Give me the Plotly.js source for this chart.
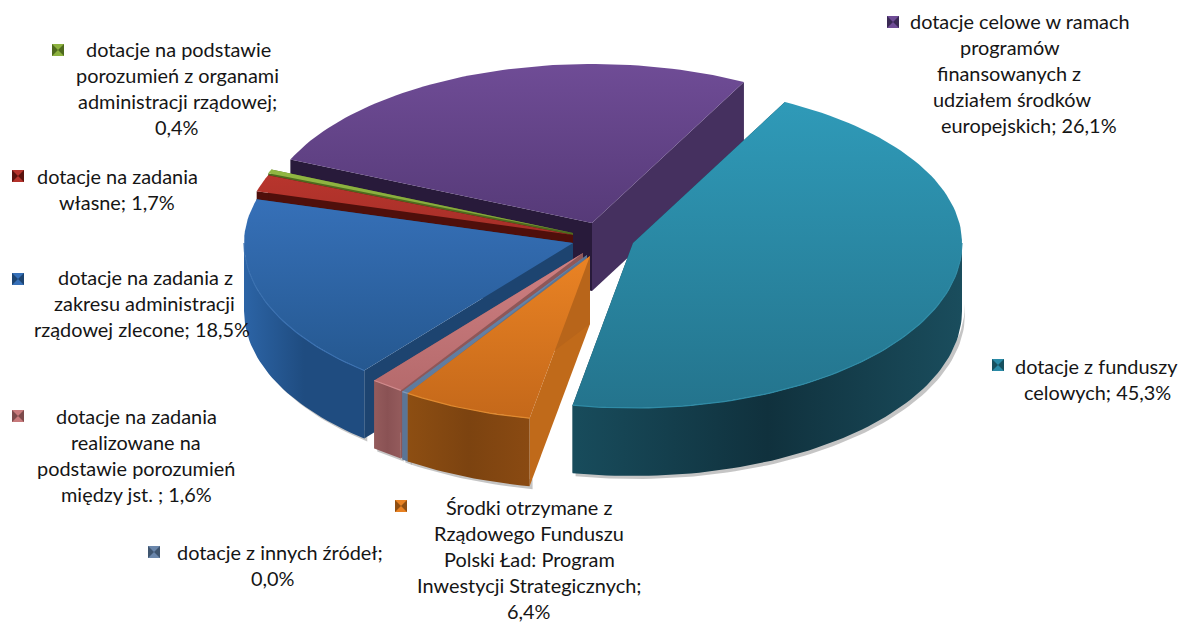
<!DOCTYPE html>
<html><head><meta charset="utf-8">
<script src="https://cdn.plot.ly/plotly-3.0.1.min.js"></script>
<style>html,body{margin:0;padding:0;background:#fff}#c{width:1187px;height:626px}</style>
</head><body><div id="c"></div>
<script>
// ---- data ----
const categories = ["dotacje z funduszy celowych","Środki otrzymane z Rządowego Funduszu Polski Ład: Program Inwestycji Strategicznych","dotacje z innych źródeł","dotacje na zadania realizowane na podstawie porozumień między jst.","dotacje na zadania z zakresu administracji rządowej zlecone","dotacje na zadania własne","dotacje na podstawie porozumień z organami administracji rządowej","dotacje celowe w ramach programów finansowanych z udziałem środków europejskich"];
const values = [45.3,6.4,0.0,1.6,18.5,1.7,0.4,26.1];
const labelLines = [
 ["dotacje z funduszy","celowych; 45,3%"],
 ["Środki otrzymane z","Rządowego Funduszu","Polski Ład: Program","Inwestycji Strategicznych;","6,4%"],
 ["dotacje z innych źródeł;","0,0%"],
 ["dotacje na zadania","realizowane na","podstawie porozumień","między jst. ; 1,6%"],
 ["dotacje na zadania z","zakresu administracji","rządowej zlecone; 18,5%"],
 ["dotacje na zadania","własne; 1,7%"],
 ["dotacje na podstawie","porozumień z organami","administracji rządowej;","0,4%"],
 ["dotacje celowe w ramach","programów","finansowanych z","udziałem środków","europejskich; 26,1%"]
];
// ---- styling / layout ----
const topCol  = [["#24748d","#2f9ab8"],["#c4681a","#ea8324"],["#5f7a9c","#6a86ab"],["#b56a6c","#cf8082"],["#255890","#3670b8"],["#a62f28","#b8352d"],["#7fa238","#92b843"],["#563a78","#6f4c96"]];
const wallCol = [["#184c5c","#10313d","#1a4d5d"],["#8d4e12","#7c4310","#8a4a12"],["#5b7596","#5b7596","#5b7596"],["#945b5c","#8a5254","#945b5c"],["#2c64a6","#1f4c80","#1f4c80"],["#4f0f0b","#4f0f0b","#4f0f0b"],["#55701f","#55701f","#55701f"],["#3a2954","#3a2954","#3a2954"]];
const startWall = ["#14414f","#c06a1a","#5b7596","#8f5758","#1d4470","#4f0f0b","#4f6a1e","#281a3a"];
const endWall   = ["#14414f","#b8651a","#5b7596","#8f5758","#1d4470","#4f0f0b","#4f6a1e","#45305f"];
const rimCol  = ["#2f8ba6","#e08a30","#7f98ba","#d08a8c","#3a70b0","#c8463e","#a5c655","#7e5ca6"];
const keyCol  = [["#2a8aa6","#17505f"],["#e88122","#8f4e12"],["#6a86ab","#3f556f"],["#c87a7c","#7d4a4b"],["#3670b8","#1d4470"],["#b5332c","#5a120d"],["#8db23f","#4f6a1e"],["#6f4c96","#3a2954"]];
const apex = [[633,243],[590,256],[587,255],[583,253],[573,243],[573,235],[573,233],[592,223]];
const labelX = [[1096,1097],[529,529,529,529,529],[280,273],[136,136,136,136],[145,144,142],[117,117],[178,177,177,177],[1020,1010,1009,1012,1029]];
const labelY = [366,507,552,416,277,176,49,21];
const keyPos = [[998,365],[401,506],[154,552],[18,416],[18,279],[18,176],[58,50],[893,22]];
const RX=329, RT=159, RB=165, DEPTH=68, ROT=27.5, MIN_SWEEP=1.3, FONT=19.9, LINE=26;
const drawOrder=[7,6,5,4,3,2,1,0];

const traces=[];
const P=(c,deg,z)=>{const r=deg*Math.PI/180,co=Math.cos(r);return [c[0]+RX*Math.sin(r),c[1]-(co>0?RT:RB)*co+(z||0)];};
function poly(pts,fill){
  traces.push({type:"scatter",mode:"lines",x:pts.map(p=>p[0]),y:pts.map(p=>p[1]),fill:"toself",line:{width:0},hoverinfo:"skip",showlegend:false,...fill});
}
function grad(type,cols){const n=cols.length-1;return {fillgradient:{type:type,colorscale:cols.map((c,i)=>[i/n,c])},fillcolor:cols[0]};}
function arc(c,a0,a1,z){const out=[];const n=Math.max(2,Math.ceil(Math.abs(a1-a0)/1.5));for(let i=0;i<=n;i++)out.push(P(c,a0+(a1-a0)*i/n,z));return out;}

let acc=ROT; const spans=values.map(v=>{const s=acc;acc+=v*3.6;return [s,acc];});
spans[2]=[spans[2][0]-MIN_SWEEP*0.6,spans[2][0]+MIN_SWEEP*0.4];

// soft shadow below the front walls
drawOrder.forEach(i=>{
  const [s,e]=spans[i],c=apex[i];
  const w0=Math.max(s,90),w1=Math.min(e,270);
  if(w1>w0){
    const sc=[c[0]+3,c[1]+3];
    poly(arc(sc,w0,w1,DEPTH).concat(arc(sc,w1,w0,DEPTH-10)),{fillcolor:"rgba(90,90,90,0.35)"});
  }
});
drawOrder.forEach(i=>{
  const [s,e]=spans[i],c=apex[i];
  // radial walls
  const pS=P(c,s),pE=P(c,e);
  poly([c,pS,[pS[0],pS[1]+DEPTH],[c[0],c[1]+DEPTH]],{fillcolor:startWall[i]});
  poly([c,pE,[pE[0],pE[1]+DEPTH],[c[0],c[1]+DEPTH]],{fillcolor:endWall[i]});
  // outer wall (front part only)
  const w0=Math.max(s,90),w1=Math.min(e,270);
  if(w1>w0) poly(arc(c,w0,w1,0).concat(arc(c,w1,w0,DEPTH)),grad("horizontal",wallCol[i]));
  // top surface
  poly([c].concat(arc(c,s,e,0)),grad("vertical",topCol[i]));
  if(w1>w0) traces.push({type:"scatter",mode:"lines",x:arc(c,w0,w1,0).map(p=>p[0]),y:arc(c,w0,w1,0).map(p=>p[1]),line:{color:rimCol[i],width:1.2},hoverinfo:"skip",showlegend:false});
});

const annotations=[],shapes=[];
labelLines.forEach((ls,i)=>ls.forEach((t,j)=>annotations.push({
  text:t,x:labelX[i][j],y:labelY[i]+j*LINE,xref:"x",yref:"y",showarrow:false,xanchor:"center",yanchor:"middle",
  font:{family:"Lato, Carlito, sans-serif",size:FONT,color:"#151515"}
})));
keyPos.forEach((k,i)=>{
  const h=6,[x,y]=k;
  shapes.push({type:"rect",xref:"x",yref:"y",x0:x-h,x1:x+h,y0:y-h,y1:y+h,fillcolor:keyCol[i][1],line:{width:0}});
  shapes.push({type:"path",xref:"x",yref:"y",path:`M${x-h},${y-h}L${x+h},${y-h}L${x},${y}Z`,fillcolor:keyCol[i][0],line:{width:0}});
  shapes.push({type:"path",xref:"x",yref:"y",path:`M${x-h},${y+h}L${x+h},${y+h}L${x},${y}Z`,fillcolor:keyCol[i][0],line:{width:0}});
});

Plotly.newPlot("c",traces,{
  width:1187,height:626,margin:{l:0,r:0,t:0,b:0},paper_bgcolor:"#fff",plot_bgcolor:"#fff",showlegend:false,
  xaxis:{range:[0,1187],visible:false,fixedrange:true},
  yaxis:{range:[626,0],visible:false,fixedrange:true},
  annotations,shapes
},{displayModeBar:false,staticPlot:true});
</script></body></html>
